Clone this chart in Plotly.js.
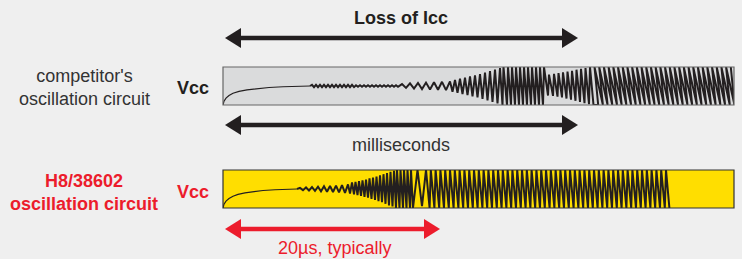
<!DOCTYPE html>
<html><head><meta charset="utf-8">
<script src="https://cdn.plot.ly/plotly-3.0.1.min.js"></script>
<style>html,body{margin:0;padding:0;background:#efefef;}#chart{width:742px;height:259px;}</style>
</head><body><div id="chart"></div>
<script>
// ---------- data (x: position along the trace window, y: 0 = bottom, 1 = top) ----------
// competitor's oscillation circuit
const compCurveX = [0,1,3,6,10,16,24,34,46,60,74,87];
const compCurveY = [0,0.1,0.18,0.25,0.31,0.36,0.4,0.43,0.46,0.48,0.49,0.5];
const compLeadX = [87,89,91,93,95,97,99,101,103,105,107,109,111,113,115,117,119,121,123,125,127,129,131,
  133,135,137,139,141,143,145,147,149,151,153,155,157,159,161,163,165,167,169,171,173,175,
  179,183,187,191,195,199,203,207,211,215,219,223,227,
  229.5,232,234.5,237,239.5,242,244.5,247,249.5,252,254.5,257,259.5,262,264.5,267,269.5,272,274.5,277,279.5,
  280.5,284,285,288,289,292,293,296,297,300,301,304,305,308,309,312,313,316,317,320,321,325,
  326,330,331,334.5,335.5,339,340,343.5,344.5,348,349,352.5,353.5,357,358,361.5,362.5,366,367,370.5];
const compLeadY = [0.5,0.53,0.47,0.53,0.47,0.53,0.47,0.53,0.47,0.53,0.47,0.53,0.47,0.53,0.47,0.53,0.47,0.53,0.47,0.53,0.47,0.53,0.47,
  0.52,0.48,0.52,0.48,0.52,0.48,0.52,0.48,0.52,0.48,0.52,0.48,0.52,0.48,0.52,0.48,0.52,0.48,0.52,0.48,0.52,0.48,
  0.55,0.45,0.57,0.43,0.58,0.42,0.59,0.41,0.6,0.4,0.61,0.39,0.62,
  0.35,0.66,0.32,0.69,0.29,0.72,0.26,0.75,0.23,0.78,0.2,0.81,0.16,0.85,0.12,0.89,0.08,0.93,0.04,0.97,0,
  1,0,1,0,1,0,1,0,1,0,1,0,1,0,1,0,1,0,1,0,1,0.25,
  0.8,0.24,0.82,0.22,0.84,0.2,0.86,0.17,0.88,0.14,0.9,0.11,0.93,0.08,0.95,0.05,0.97,0.02,1,0];
const compSawPeakX = [371.5,376.2,380.9,385.6,390.3,395,399.7,404.4,409.1,413.8,418.5,423.2,427.9,432.6,437.3,
  442,446.7,451.4,456.1,460.8,465.5,470.2,474.9,479.6,484.3,489,493.7,498.4,503.1,507.8];
const compSawTroughX = [375.2,379.9,384.6,389.3,394,398.7,403.4,408.1,412.8,417.5,422.2,426.9,431.6,436.3,441,
  445.7,450.4,455.1,459.8,464.5,469.2,473.9,478.6,483.3,488,492.7,497.4,502.1,506.8,511.5];

// H8/38602 oscillation circuit
const h8CurveX = [0,1,3,6,10,15,22,30,40,52,63,74];
const h8CurveY = [0,0.1,0.18,0.25,0.31,0.36,0.4,0.43,0.46,0.48,0.49,0.5];
const h8LeadX = [74,77,80,83,86,89,92,95,98,101,104,107,110,113,116,119,122,125,127,
  129,131,132.5,134.5,136,138,139.5,141.5,143,145,146.5,148.5,150,152,153.5,155.5,157,159,160.5,162.5,164,166,167.5,169.5,171,173,
  174,176.5,177.5,180,181,183.5,184.5,187,188,190,194.5,199,203];
const h8LeadY = [0.5,0.53,0.47,0.54,0.46,0.55,0.45,0.56,0.44,0.57,0.43,0.58,0.42,0.59,0.41,0.6,0.4,0.62,0.38,
  0.67,0.36,0.69,0.34,0.71,0.32,0.73,0.29,0.75,0.27,0.78,0.24,0.8,0.21,0.83,0.18,0.86,0.15,0.89,0.11,0.92,0.07,0.95,0.04,0.98,0,
  1,0,1,0,1,0,1,0,1,0,1,0.05,1];
const h8SawPeakX = [207.8,212.6,217.4,222.2,227,231.8,236.6,241.4,246.2,251,255.8,260.6,265.4,270.2,275,279.8,
  284.6,289.4,294.2,299,303.8,308.6,313.4,318.2,323,327.8,332.6,337.4,342.2,347,351.8,356.6,361.4,366.2,371,
  375.8,380.6,385.4,390.2,395,399.8,404.6,409.4,414.2,419,423.8,428.6,433.4,438.2,443];
const h8SawTroughX = [206.6,211.4,216.2,221,225.8,230.6,235.4,240.2,245,249.8,254.6,259.4,264.2,269,273.8,278.6,
  283.4,288.2,293,297.8,302.6,307.4,312.2,317,321.8,326.6,331.4,336.2,341,345.8,350.6,355.4,360.2,365,369.8,
  374.6,379.4,384.2,389,393.8,398.6,403.4,408.2,413,417.8,422.6,427.4,432.2,437,441.8,446.4];

const rowLabels = ["competitor's<br>oscillation circuit", "H8/38602<br>oscillation circuit"];
const axisLabel = "Vcc";
const spanLabels = ["Loss of Icc", "milliseconds", "20\u00b5s, typically"];

// ---------- build ----------
function saw(troughs, peaks){ // trough first, then peak
  const x=[], y=[];
  for(let i=0;i<troughs.length;i++){
    x.push(troughs[i]); y.push(0);
    if(i<peaks.length){ x.push(peaks[i]); y.push(1); }
  }
  return {x,y};
}
const compSaw = saw(compSawTroughX, compSawPeakX);
const h8Saw = saw(h8SawTroughX, h8SawPeakX);
const compOscX = compLeadX.concat(compSaw.x), compOscY = compLeadY.concat(compSaw.y);
const h8OscX = h8LeadX.concat(h8Saw.x), h8OscY = h8LeadY.concat(h8Saw.y);

const W=742, H=259;
const px = v => v/W, py = v => 1 - v/H;
const boxL=223, boxR=734, topBox=[67,105], botBox=[170,208];
const INK='#231f20', RED='#ec1c2c';
const FONT='Liberation Sans, Arial, Helvetica, sans-serif';

const traces = [
  {x:compCurveX, y:compCurveY, xaxis:'x', yaxis:'y', mode:'lines', line:{color:INK,width:1.2}, hoverinfo:'skip'},
  {x:compOscX, y:compOscY, xaxis:'x', yaxis:'y', mode:'lines', line:{color:INK,width:2}, hoverinfo:'skip'},
  {x:h8CurveX, y:h8CurveY, xaxis:'x2', yaxis:'y2', mode:'lines', line:{color:INK,width:1.2}, hoverinfo:'skip'},
  {x:h8OscX, y:h8OscY, xaxis:'x2', yaxis:'y2', mode:'lines', line:{color:INK,width:2}, hoverinfo:'skip'}
];

function arrow(x0,x1,y,color){
  const hl=16, hh=10;
  return [
    {type:'line', xref:'paper', yref:'paper', x0:px(x0+hl-1), x1:px(x1-hl+1), y0:py(y), y1:py(y), line:{color:color,width:4.5}},
    {type:'path', xref:'paper', yref:'paper', path:`M ${px(x0)},${py(y)} L ${px(x0+hl)},${py(y-hh)} L ${px(x0+hl)},${py(y+hh)} Z`, fillcolor:color, line:{width:0}},
    {type:'path', xref:'paper', yref:'paper', path:`M ${px(x1)},${py(y)} L ${px(x1-hl)},${py(y-hh)} L ${px(x1-hl)},${py(y+hh)} Z`, fillcolor:color, line:{width:0}}
  ];
}
const shapes = [
  {type:'rect', xref:'paper', yref:'paper', x0:px(boxL), x1:px(boxR), y0:py(topBox[1]), y1:py(topBox[0]), fillcolor:'#dadbdc', line:{width:0}, layer:'below'},
  {type:'rect', xref:'paper', yref:'paper', x0:px(boxL), x1:px(boxR), y0:py(botBox[1]), y1:py(botBox[0]), fillcolor:'#ffde00', line:{width:0}, layer:'below'},
  {type:'rect', xref:'paper', yref:'paper', x0:px(boxL), x1:px(boxR), y0:py(topBox[1]), y1:py(topBox[0]), line:{color:'#666',width:1.2}},
  {type:'rect', xref:'paper', yref:'paper', x0:px(boxL), x1:px(boxR), y0:py(botBox[1]), y1:py(botBox[0]), line:{color:'#333',width:1.2}},
  ...arrow(225,578,38,INK), ...arrow(225,578,125,INK), ...arrow(225,440,229,RED)
];

function ann(text,x,y,size,color,bold){
  return {text: bold?`<b>${text}</b>`:text, xref:'paper', yref:'paper', x:px(x), y:py(y), xanchor:'center', yanchor:'middle',
    showarrow:false, font:{family:FONT,size:size,color:color}};
}
const annotations = [
  ann(spanLabels[0],401,18,18,INK,true),
  ann(rowLabels[0],84,87,18,'#333',false),
  ann(axisLabel,193,88,18,INK,true),
  ann(spanLabels[1],401,145,18,'#333',false),
  ann(rowLabels[1],84,192,18,RED,true),
  ann(axisLabel,193,192,18,RED,true),
  ann(spanLabels[2],334,248,18,RED,false)
];

const ax = {visible:false, fixedrange:true, showgrid:false, zeroline:false};
const layout = {
  width:W, height:H, margin:{l:0,r:0,t:0,b:0},
  paper_bgcolor:'#efefef', plot_bgcolor:'rgba(0,0,0,0)', showlegend:false,
  xaxis:{...ax, domain:[px(boxL),px(boxR)], range:[0,boxR-boxL], anchor:'y'},
  yaxis:{...ax, domain:[py(topBox[1]),py(topBox[0])], range:[0,1], anchor:'x'},
  xaxis2:{...ax, domain:[px(boxL),px(boxR)], range:[0,boxR-boxL], anchor:'y2'},
  yaxis2:{...ax, domain:[py(botBox[1]),py(botBox[0])], range:[0,1], anchor:'x2'},
  shapes, annotations
};
Plotly.newPlot('chart', traces, layout, {staticPlot:true, displayModeBar:false});
</script></body></html>
